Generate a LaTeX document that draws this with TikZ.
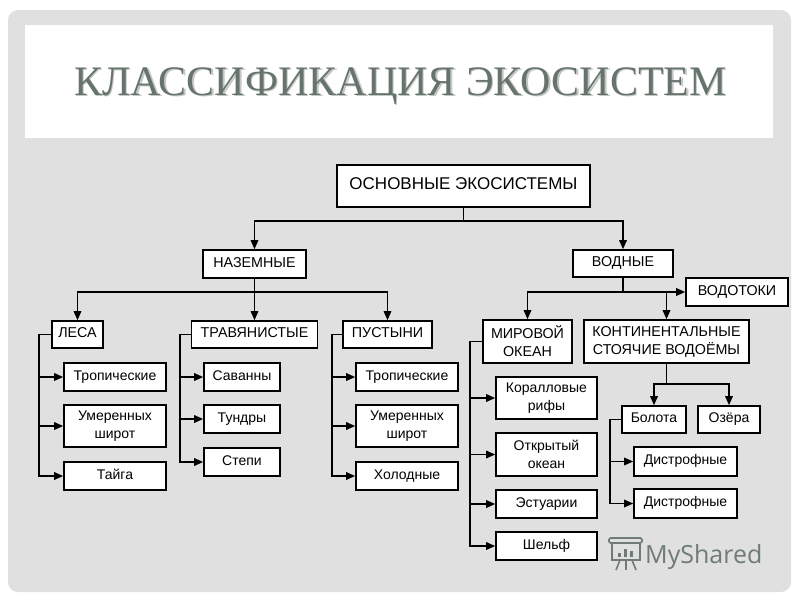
\documentclass[tikz,border=0pt]{standalone}
\usepackage{fontspec}
\setmainfont{Liberation Serif}
\newfontfamily\arialf{Liberation Sans}
\newfontfamily\wmfont{Open Sans}
\usetikzlibrary{arrows.meta}
\definecolor{bggrey}{HTML}{E0E0E0}
\definecolor{titlec}{HTML}{67746C}
\definecolor{shadowc}{HTML}{C4C8C4}
\definecolor{wmc}{HTML}{6F7B76}
\newcommand\ftitle{\fontsize{42}{46}\selectfont}
\newcommand\froot{\arialf\fontsize{17}{20}\selectfont}
\newcommand\fhead{\arialf\fontsize{14.3}{18}\selectfont}
\newcommand\fitem{\arialf\fontsize{14}{18}\selectfont}
\tikzset{
  bx/.style={draw=black, line width=1.6pt, fill=white, inner sep=0pt, align=center},
  one/.style={text height=0.72em, text depth=0.04em},
  hbx/.style={bx, font=\fhead},
  ibx/.style={bx, font=\fitem},
  ln/.style={line width=1.6pt},
  arr/.style={line width=1.6pt, -{Triangle[length=9pt,width=7.5pt]}},
}
\begin{document}
\begin{tikzpicture}[x=1pt,y=-1pt]
\useasboundingbox (0,0) rectangle (800,600);
\fill[white] (0,0) rectangle (800,600);
\fill[bggrey, rounded corners=10pt] (8,10) rectangle (791,592);
\fill[white] (25,25) rectangle (773,138);
% title
\node[font=\ftitle, text=shadowc, anchor=base, inner sep=0pt] (titleshadow) at (402,96.5) {КЛАССИФИКАЦИЯ ЭКОСИСТЕМ};
\node[font=\ftitle, text=titlec, anchor=base, inner sep=0pt] (title) at (400.5,95) {КЛАССИФИКАЦИЯ ЭКОСИСТЕМ};
% top levels
\node[bx, one, font=\froot, minimum width=253pt, minimum height=42pt] (root) at (463.5,186) {ОСНОВНЫЕ ЭКОСИСТЕМЫ};
\node[hbx, one, minimum width=103pt, minimum height=28pt] (naz) at (254.5,264) {НАЗЕМНЫЕ};
\node[hbx, one, minimum width=100pt, minimum height=27pt] (vod) at (623,263.5) {ВОДНЫЕ};
\node[hbx, one, minimum width=102pt, minimum height=28pt] (vodotoki) at (737,292) {ВОДОТОКИ};
% second level
\node[hbx, one, minimum width=51pt, minimum height=27pt] (lesa) at (77.5,334.5) {ЛЕСА};
\node[hbx, one, minimum width=126pt, minimum height=27pt] (trav) at (254.5,334.5) {ТРАВЯНИСТЫЕ};
\node[hbx, one, minimum width=89pt, minimum height=27pt] (pust) at (387.5,334.5) {ПУСТЫНИ};
\node[hbx, minimum width=89pt, minimum height=43pt] (mir) at (527.5,341.5) {МИРОВОЙ\\ОКЕАН};
\node[hbx, minimum width=165pt, minimum height=43pt] (kont) at (666.5,341.5) {КОНТИНЕНТАЛЬНЫЕ\\СТОЯЧИЕ ВОДОЁМЫ};
% forests
\node[ibx, one, minimum width=102pt, minimum height=28pt] (l1) at (115,377) {Тропические};
\node[ibx, minimum width=102pt, minimum height=42pt] (l2) at (115,426) {Умеренных\\широт};
\node[ibx, one, minimum width=102pt, minimum height=28pt] (l3) at (115,476) {Тайга};
% grasslands
\node[ibx, one, minimum width=76pt, minimum height=28pt] (t1) at (242,377) {Саванны};
\node[ibx, one, minimum width=76pt, minimum height=28pt] (t2) at (242,419) {Тундры};
\node[ibx, one, minimum width=76pt, minimum height=28pt] (t3) at (242,462) {Степи};
% deserts
\node[ibx, one, minimum width=102pt, minimum height=28pt] (p1) at (407,377) {Тропические};
\node[ibx, minimum width=102pt, minimum height=42pt] (p2) at (407,426) {Умеренных\\широт};
\node[ibx, one, minimum width=102pt, minimum height=28pt] (p3) at (407,476) {Холодные};
% ocean
\node[ibx, minimum width=101pt, minimum height=42pt] (m1) at (546.5,398) {Коралловые\\рифы};
\node[ibx, minimum width=101pt, minimum height=43pt] (m2) at (546.5,454.5) {Открытый\\океан};
\node[ibx, one, minimum width=101pt, minimum height=28pt] (m3) at (546.5,504) {Эстуарии};
\node[ibx, one, minimum width=101pt, minimum height=28pt] (m4) at (546.5,546) {Шельф};
% standing waters
\node[ibx, one, minimum width=64pt, minimum height=27pt] (bol) at (654,419.5) {Болота};
\node[ibx, one, minimum width=62pt, minimum height=27pt] (oz) at (729,419.5) {Озёра};
\node[ibx, one, minimum width=103pt, minimum height=29pt] (d1) at (685.5,461.5) {Дистрофные};
\node[ibx, one, minimum width=103pt, minimum height=29pt] (d2) at (685.5,503.5) {Дистрофные};
% connectors top
\coordinate (j1) at (463.5,221);
\draw[ln] (root.south) -- (j1);
\draw[arr] (j1) -| (naz.north);
\draw[arr] (j1) -| (vod.north);
\coordinate (j2) at (254.5,292);
\draw[arr] (naz.south) -- (trav.north);
\draw[arr] (j2) -| (lesa.north);
\draw[arr] (j2) -| (pust.north);
\coordinate (j3) at (623,292);
\draw[ln] (vod.south) -- (j3);
\draw[arr] (j3) -| (mir.north);
\draw[arr] (j3) -| (kont.north);
\draw[arr] (j3) -- (vodotoki.west);
\coordinate (j4) at (666.5,384);
\draw[ln] (kont.south) -- (j4);
\draw[arr] (j4) -| (bol.north);
\draw[arr] (j4) -| (oz.north);
% brackets
\coordinate (lv) at (39,334.5);
\draw[arr] (lesa.west) -- (lv) |- (l3.west);
\draw[arr] (lv) |- (l1.west);
\draw[arr] (lv) |- (l2.west);
\coordinate (tv) at (180,334.5);
\draw[arr] (trav.west) -- (tv) |- (t3.west);
\draw[arr] (tv) |- (t1.west);
\draw[arr] (tv) |- (t2.west);
\coordinate (pv) at (332,334.5);
\draw[arr] (pust.west) -- (pv) |- (p3.west);
\draw[arr] (pv) |- (p1.west);
\draw[arr] (pv) |- (p2.west);
\coordinate (mv) at (470,341.5);
\draw[arr] (mir.west) -- (mv) |- (m4.west);
\draw[arr] (mv) |- (m1.west);
\draw[arr] (mv) |- (m2.west);
\draw[arr] (mv) |- (m3.west);
\coordinate (bv) at (610,419.5);
\draw[arr] (bol.west) -- (bv) |- (d2.west);
\draw[arr] (bv) |- (d1.west);
% watermark
\begin{scope}[draw=wmc, line width=1.6pt]
\draw[rounded corners=1.5pt] (609,538) rectangle (642,543);
\draw (612,543) rectangle (640,560);
\fill[wmc] (618,553) rectangle (621,557);
\fill[wmc] (624,549) rectangle (627,557);
\fill[wmc] (630,551) rectangle (633,557);
\draw (620,560) -- (616,570);
\draw (626,560) -- (626,570);
\draw (632,560) -- (636,570);
\end{scope}
\node[font=\wmfont\fontsize{25}{28}\selectfont, text=wmc, anchor=base west, inner sep=0pt] (wm) at (645,563) {MyShared};
\end{tikzpicture}
\end{document}
